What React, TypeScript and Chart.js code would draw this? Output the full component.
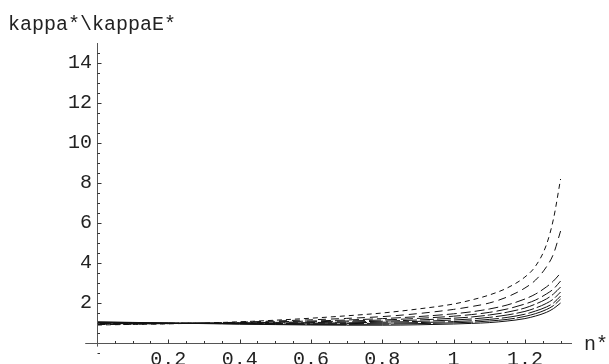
import { useEffect, useRef } from "react";
import { Chart, registerables } from "chart.js";

Chart.register(...registerables);

// n* sample positions
const nValues = [0, 0.1, 0.2, 0.3, 0.4, 0.5, 0.6, 0.7, 0.8, 0.9, 1.0, 1.05, 1.1, 1.15, 1.2, 1.23, 1.26, 1.28, 1.3];

// kappa*/kappaE* curves (top dashed -> bottom solid)
const curve1 = [0.9, 0.93, 0.96, 1.0, 1.06, 1.14, 1.24, 1.36, 1.5, 1.7, 1.95, 2.15, 2.4, 2.75, 3.3, 3.85, 4.9, 6.2, 8.2];
const curve2 = [0.92, 0.94, 0.97, 1.0, 1.04, 1.1, 1.16, 1.23, 1.32, 1.47, 1.68, 1.82, 2.0, 2.3, 2.75, 3.15, 3.8, 4.45, 5.6];
const curve3 = [0.94, 0.95, 0.97, 0.99, 1.02, 1.06, 1.1, 1.15, 1.22, 1.32, 1.46, 1.56, 1.7, 1.9, 2.2, 2.45, 2.8, 3.1, 3.5];
const curve4 = [0.96, 0.97, 0.98, 0.99, 1.01, 1.03, 1.06, 1.1, 1.15, 1.23, 1.34, 1.42, 1.53, 1.7, 1.95, 2.15, 2.45, 2.7, 3.1];
const curve5 = [0.98, 0.98, 0.98, 0.98, 0.99, 1.0, 1.02, 1.05, 1.09, 1.15, 1.24, 1.3, 1.4, 1.54, 1.75, 1.95, 2.2, 2.45, 2.8];
const curve6 = [1.0, 0.99, 0.98, 0.98, 0.98, 0.98, 0.99, 1.01, 1.04, 1.08, 1.15, 1.2, 1.28, 1.4, 1.58, 1.75, 1.98, 2.2, 2.55];
const curve7 = [1.02, 1.0, 0.99, 0.98, 0.97, 0.96, 0.96, 0.97, 0.99, 1.02, 1.07, 1.11, 1.18, 1.28, 1.44, 1.6, 1.8, 2.0, 2.35];
const curve8 = [1.04, 1.02, 1.0, 0.98, 0.96, 0.94, 0.93, 0.93, 0.94, 0.97, 1.01, 1.04, 1.1, 1.18, 1.33, 1.47, 1.67, 1.87, 2.2];
const curve9 = [1.06, 1.03, 1.0, 0.97, 0.94, 0.92, 0.9, 0.89, 0.89, 0.91, 0.95, 0.98, 1.02, 1.1, 1.22, 1.35, 1.53, 1.72, 2.0];

const curves = [curve1, curve2, curve3, curve4, curve5, curve6, curve7, curve8, curve9];

// tick labels
const xTickValues = [0.2, 0.4, 0.6, 0.8, 1.0, 1.2];
const xTickLabels = ["0.2", "0.4", "0.6", "0.8", "1", "1.2"];
const yTickValues = [2, 4, 6, 8, 10, 12, 14];
const yTickLabels = ["2", "4", "6", "8", "10", "12", "14"];

const yAxisTitle = "kappa*\\kappaE*";
const xAxisTitle = "n*";

const dashPatterns = [[5, 4], [8, 5], [10, 4], [12, 4], [14, 3], [18, 3], [24, 3], [40, 2], []];

const FONT = "'Liberation Mono', 'DejaVu Sans Mono', monospace";

const axesPlugin = {
  id: "mmaAxes",
  afterDraw(chart: any) {
    const { ctx } = chart;
    const x = chart.scales.x;
    const y = chart.scales.y;
    const x0 = Math.round(x.getPixelForValue(0)) + 0.5;
    const y0 = Math.round(y.getPixelForValue(0)) + 0.5;
    ctx.save();
    ctx.strokeStyle = "#555";
    ctx.lineWidth = 1;
    ctx.beginPath();
    ctx.moveTo(x.getPixelForValue(-0.033), y0);
    ctx.lineTo(x.getPixelForValue(1.332), y0);
    ctx.moveTo(x0, y.getPixelForValue(-0.18));
    ctx.lineTo(x0, y.getPixelForValue(15));
    ctx.stroke();

    ctx.strokeStyle = "#333";
    ctx.beginPath();
    for (let i = 1; i <= 26; i++) {
      const v = i * 0.05;
      const px = Math.round(x.getPixelForValue(v)) + 0.5;
      const len = i % 4 === 0 ? 4 : 2.5;
      ctx.moveTo(px, y0);
      ctx.lineTo(px, y0 - len);
    }
    for (let i = -1; i <= 29; i++) {
      if (i === 0) continue;
      const v = i * 0.5;
      const py = Math.round(y.getPixelForValue(v)) + 0.5;
      const len = i % 4 === 0 ? 4 : 2.5;
      ctx.moveTo(x0, py);
      ctx.lineTo(x0 + len, py);
    }
    ctx.stroke();

    ctx.fillStyle = "#222";
    ctx.font = `20px ${FONT}`;
    ctx.textAlign = "left";
    ctx.textBaseline = "alphabetic";
    ctx.fillText(yAxisTitle, 8, 30);
    ctx.fillText(xAxisTitle, 584, 350);
    ctx.restore();
  },
};

export default function App() {
  const canvasRef = useRef<HTMLCanvasElement | null>(null);

  useEffect(() => {
    const canvas = canvasRef.current;
    if (!canvas) return;
    const datasets = curves.map((vals, i) => ({
      label: `curve ${i + 1}`,
      data: nValues.map((n, j) => ({ x: n, y: vals[j] })),
      borderColor: "#111",
      borderWidth: 1,
      borderDash: dashPatterns[i],
      pointRadius: 0,
      fill: false,
      cubicInterpolationMode: "monotone" as const,
    }));
    const chart = new Chart(canvas, {
      type: "line",
      data: { datasets },
      options: {
        animation: false,
        responsive: false,
        devicePixelRatio: 1,
        layout: { padding: { top: 43, right: 37, left: 0, bottom: 0 } },
        plugins: { legend: { display: false }, tooltip: { enabled: false } },
        scales: {
          x: {
            type: "linear",
            min: 0,
            max: 1.332,
            position: "bottom",
            grid: { display: false, drawTicks: false },
            border: { display: false },
            afterBuildTicks: (s: any) => {
              s.ticks = xTickValues.map((v) => ({ value: v }));
            },
            afterFit: (s: any) => {
              s.height = 21;
            },
            ticks: {
              autoSkip: false,
              maxRotation: 0,
              padding: 5,
              color: "#222",
              font: { family: FONT, size: 20 },
              callback: (v: any) => {
                const i = xTickValues.indexOf(Number(v));
                return i >= 0 ? xTickLabels[i] : "";
              },
            },
          },
          y: {
            type: "linear",
            min: 0,
            max: 15,
            position: "left",
            grid: { display: false, drawTicks: false },
            border: { display: false },
            afterBuildTicks: (s: any) => {
              s.ticks = yTickValues.map((v) => ({ value: v }));
            },
            afterFit: (s: any) => {
              s.width = 97;
            },
            ticks: {
              autoSkip: false,
              padding: 5,
              color: "#222",
              font: { family: FONT, size: 20 },
              callback: (v: any) => {
                const i = yTickValues.indexOf(Number(v));
                return i >= 0 ? yTickLabels[i] : "";
              },
            },
          },
        },
      },
      plugins: [axesPlugin],
    });
    return () => chart.destroy();
  }, []);

  return (
    <div style={{ position: "fixed", left: 0, top: 0, width: 609, height: 364, background: "#fff" }}>
      <canvas ref={canvasRef} width={609} height={364} />
    </div>
  );
}
